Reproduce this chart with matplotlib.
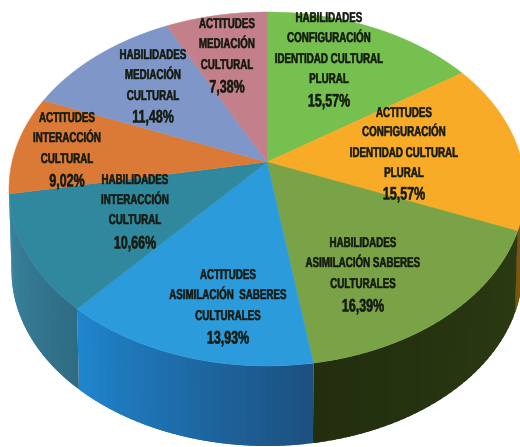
import numpy as np
import matplotlib
matplotlib.use("Agg")
import matplotlib.pyplot as plt
from matplotlib.patheffects import AbstractPathEffect
from matplotlib.transforms import Affine2D

# Slices clockwise from 12 o'clock
values = [15.57, 15.57, 16.39, 13.93, 10.66, 9.02, 11.48, 7.38]
pct_labels = ["15,57%", "15,57%", "16,39%", "13,93%", "10,66%", "9,02%", "11,48%", "7,38%"]
label_lines = [
    ["HABILIDADES", "CONFIGURACIÓN", "IDENTIDAD CULTURAL", "PLURAL"],
    ["ACTITUDES", "CONFIGURACIÓN", "IDENTIDAD CULTURAL", "PLURAL"],
    ["HABILIDADES", "ASIMILACIÓN SABERES", "CULTURALES"],
    ["ACTITUDES", "ASIMILACIÓN  SABERES", "CULTURALES"],
    ["HABILIDADES", "INTERACCIÓN", "CULTURAL"],
    ["ACTITUDES", "INTERACCIÓN", "CULTURAL"],
    ["HABILIDADES", "MEDIACIÓN", "CULTURAL"],
    ["ACTITUDES", "MEDIACIÓN", "CULTURAL"],
]
top_colors = ["#75c04e", "#f8ab26", "#7aa247", "#2b9bdb", "#30889f", "#db7a36", "#7f97c8", "#c4808a"]
# side colour at the start and end of each slice (clockwise), None where no wall shows
side_start = [None, "#8f6414", "#2c3a12", "#1c4f7e", "#2f6c83", None, None, None]
side_end = [None, "#7a5510", "#222e0e", "#1f86cf", "#3a86a0", None, None, None]

# x of the text block, then y of each text line (last one is the percentage)
label_x = [329, 404, 363, 228, 135, 67, 153, 227]
label_y = [
    [18, 38, 59, 79, 102],
    [113, 132, 153, 173, 195],
    [243, 263, 284, 307],
    [275, 295, 316, 339],
    [180, 200, 220, 244],
    [118, 138, 159, 182],
    [55, 75, 96, 118],
    [24, 44, 65, 88],
]

# Perspective of the disc, in pixels
CX, CY = 267, 162
RX, RY = 255, 172.9
TILT = 0.1525
DEPTH = 82
BOTTOM_SCALE = 0.99
TEXT_SQUEEZE = 0.69


class Narrow(AbstractPathEffect):
    """Squeeze the glyphs sideways and thicken them, no narrow font is installed."""

    def __init__(self, center_x, factor):
        super().__init__()
        self.center_x = center_x
        self.factor = factor

    def draw_path(self, renderer, gc, tpath, affine, rgbFace=None):
        squeeze = Affine2D().translate(-self.center_x, 0).scale(self.factor, 1).translate(self.center_x, 0)
        gc0 = renderer.new_gc()
        gc0.copy_properties(gc)
        gc0.set_linewidth(0.35)
        gc0.set_foreground(rgbFace)
        renderer.draw_path(gc0, tpath, affine + squeeze, rgbFace)
        gc0.restore()


def project(theta, drop=0.0, scale=1.0):
    """Clockwise angle from the top (radians) to picture coordinates."""
    u = np.sin(theta)
    v = np.cos(theta)
    w = 1 + TILT * v
    return CX + scale * RX * u / w, CY + scale * RY * (-v) / w + drop


def to_rgb(c):
    return np.array(matplotlib.colors.to_rgb(c))


fig = plt.figure(figsize=(5.2, 4.47), dpi=100)
ax = fig.add_axes([0, 0, 1, 1])
ax.set_xlim(0, 520)
ax.set_ylim(447, 0)
ax.axis("off")

edges = np.cumsum([0] + values) / sum(values) * 2 * np.pi

# Side wall, each strip runs on under the next one so no seams show
for i in range(len(values)):
    if side_start[i] is None:
        continue
    a0, a1 = edges[i], edges[i + 1]
    lo = max(a0, np.pi / 2)
    steps = np.linspace(lo, a1, 40)
    for k, (s0, s1) in enumerate(zip(steps[:-1], steps[1:])):
        t = ((s0 + s1) / 2 - a0) / (a1 - a0)
        col = to_rgb(side_start[i]) * (1 - t) + to_rgb(side_end[i]) * t
        end = a1 if k == len(steps) - 2 else min(s1 + 0.02, a1)
        th = np.linspace(s0, end, 6)
        x_top, y_top = project(th)
        x_bot, y_bot = project(th[::-1], drop=DEPTH, scale=BOTTOM_SCALE)
        ax.fill(np.r_[x_top, x_bot], np.r_[y_top, y_bot], color=col, lw=0)

# Top face
for i in range(len(values)):
    th = np.linspace(edges[i], edges[i + 1], 80)
    x, y = project(th)
    ax.fill(np.r_[CX, x], np.r_[CY, y], color=top_colors[i], lw=0.3)

# Labels
for i in range(len(values)):
    squeeze = [Narrow(label_x[i], TEXT_SQUEEZE)]
    for line, y in zip(label_lines[i], label_y[i]):
        ax.text(label_x[i], y, line, ha="center", va="center", family="Liberation Sans",
                fontsize=10.2, fontweight="bold", color="#141a10", path_effects=squeeze)
    ax.text(label_x[i], label_y[i][-1], pct_labels[i], ha="center", va="center",
            family="Liberation Sans", fontsize=13, fontweight="bold", color="#141a10",
            path_effects=squeeze)

fig.savefig("out.png", dpi=100)
